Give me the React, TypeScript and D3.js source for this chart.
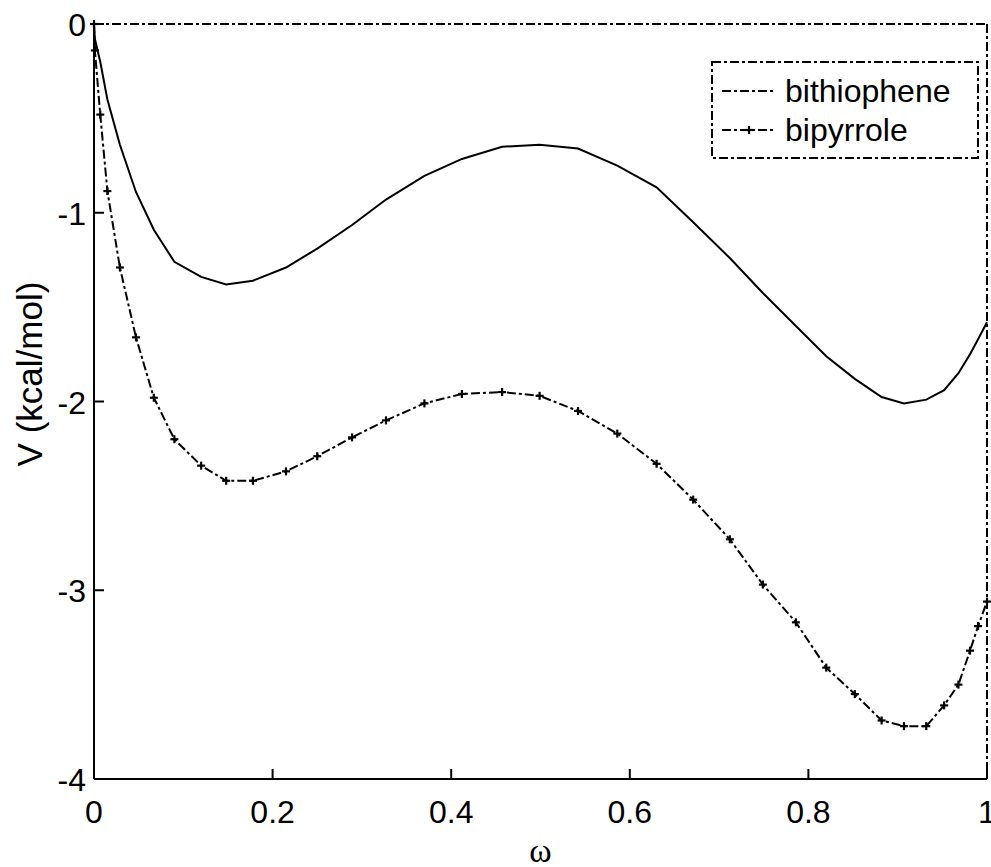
import React from "react";
import * as d3 from "d3";

const omega = [0, 0.001, 0.007, 0.015, 0.029, 0.047, 0.067, 0.09, 0.12, 0.148, 0.178, 0.215, 0.25, 0.289, 0.327, 0.37, 0.412, 0.457, 0.499, 0.542, 0.586, 0.63, 0.671, 0.712, 0.749, 0.786, 0.82, 0.852, 0.882, 0.907, 0.932, 0.952, 0.968, 0.981, 0.99, 1];
const bithiophene = [0, -0.08, -0.2, -0.4, -0.64, -0.89, -1.09, -1.26, -1.34, -1.38, -1.36, -1.29, -1.19, -1.065, -0.93, -0.805, -0.715, -0.65, -0.64, -0.66, -0.75, -0.865, -1.05, -1.24, -1.425, -1.6, -1.76, -1.88, -1.976, -2.01, -1.99, -1.94, -1.85, -1.75, -1.67, -1.58];
const bipyrrole = [0, -0.14, -0.48, -0.885, -1.29, -1.66, -1.98, -2.2, -2.34, -2.42, -2.42, -2.37, -2.29, -2.19, -2.1, -2.01, -1.96, -1.95, -1.97, -2.05, -2.17, -2.33, -2.52, -2.73, -2.97, -3.17, -3.41, -3.55, -3.69, -3.72, -3.72, -3.61, -3.5, -3.32, -3.19, -3.06];
const xTicks = [0, 0.2, 0.4, 0.6, 0.8, 1];
const xTickLabels = ["0", "0.2", "0.4", "0.6", "0.8", "1"];
const yTicks = [0, -1, -2, -3, -4];
const yTickLabels = ["0", "-1", "-2", "-3", "-4"];
const seriesNames = ["bithiophene", "bipyrrole"];
const xLabel = "ω";
const yLabel = "V (kcal/mol)";

const W = 991, H = 867;
const L = 94, R = 987, T = 24, B = 779;
const FONT = "'Liberation Sans', Arial, sans-serif";
const FS = 32;
const DASH = "9,3,3,3";

function Plus({ x, y }: { x: number; y: number }) {
  const s = 4;
  return (
    <g stroke="#000" strokeWidth={2.2}>
      <line x1={x - s} x2={x + s} y1={y} y2={y} />
      <line x1={x} x2={x} y1={y - s} y2={y + s} />
    </g>
  );
}

export default function App() {
  const x = d3.scaleLinear().domain([0, 1]).range([L, R]);
  const y = d3.scaleLinear().domain([-4, 0]).range([B, T]);
  const line = d3
    .line<number>()
    .x((_, i) => x(omega[i]))
    .y((d) => y(d));

  const lgR = 978, lgB = 158, lgT = 62, lgL = 712;
  const row1 = 91, row2 = 130;
  const sx1 = 722, sx2 = 776, tx = 785;

  return (
    <svg width={W} height={H} style={{ position: "absolute", left: 0, top: 0, background: "#fff" }} fontFamily={FONT}>
      <rect x={0} y={0} width={W} height={H} fill="#fff" />
      <line x1={L} x2={R} y1={T} y2={T} stroke="#000" strokeWidth={2} strokeDasharray={DASH} />
      <line x1={R} x2={R} y1={T} y2={B} stroke="#000" strokeWidth={2} strokeDasharray={DASH} />
      <path d={line(bithiophene) || ""} fill="none" stroke="#000" strokeWidth={2} />
      <path d={line(bipyrrole) || ""} fill="none" stroke="#000" strokeWidth={2} strokeDasharray={DASH} />
      {bipyrrole.map((v, i) => (
        <Plus key={i} x={x(omega[i])} y={y(v)} />
      ))}
      <line x1={L} x2={R} y1={B} y2={B} stroke="#000" strokeWidth={2} />
      <line x1={L} x2={L} y1={T} y2={B} stroke="#000" strokeWidth={2} />
      {xTicks.map((t, i) => (
        <g key={"x" + i}>
          <line x1={x(t)} x2={x(t)} y1={B} y2={B - 10} stroke="#000" strokeWidth={2} />
          <text x={x(t)} y={B + 44} textAnchor="middle" fontSize={FS}>
            {xTickLabels[i]}
          </text>
        </g>
      ))}
      {yTicks.map((t, i) => (
        <g key={"y" + i}>
          <line x1={L} x2={L + 10} y1={y(t)} y2={y(t)} stroke="#000" strokeWidth={2} />
          <text x={L - 8} y={y(t) + 12} textAnchor="end" fontSize={FS}>
            {yTickLabels[i]}
          </text>
        </g>
      ))}
      <text x={(L + R) / 2} y={862} textAnchor="middle" fontSize={34} fontFamily="'Liberation Serif', 'Times New Roman', serif">
        {xLabel}
      </text>
      <text transform={`translate(42, 374) rotate(-90)`} textAnchor="middle" fontSize={35}>
        {yLabel}
      </text>
      <rect x={lgL} y={lgT} width={lgR - lgL} height={lgB - lgT} fill="#fff" stroke="#000" strokeWidth={2} strokeDasharray={DASH} />
      <line x1={sx1} x2={sx2} y1={row1} y2={row1} stroke="#000" strokeWidth={2} strokeDasharray={DASH} />
      <text x={tx} y={row1 + 11} fontSize={FS}>
        {seriesNames[0]}
      </text>
      <line x1={sx1} x2={sx2} y1={row2} y2={row2} stroke="#000" strokeWidth={2} strokeDasharray={DASH} />
      <Plus x={(sx1 + sx2) / 2} y={row2} />
      <text x={tx} y={row2 + 11} fontSize={FS}>
        {seriesNames[1]}
      </text>
    </svg>
  );
}
